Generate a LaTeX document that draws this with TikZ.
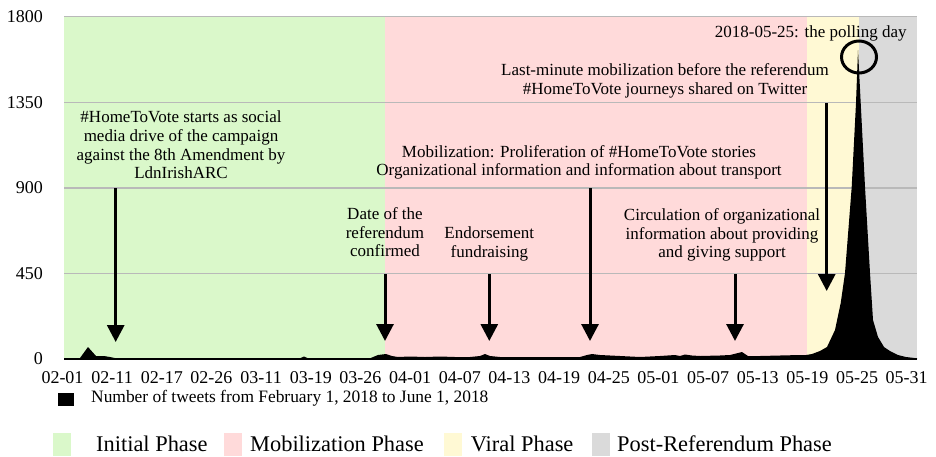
\documentclass[tikz,border=0pt]{standalone}
\usepackage{fontspec}
\setmainfont{Liberation Serif}
\usetikzlibrary{arrows.meta,shapes.geometric}
\definecolor{phgreen}{RGB}{218,248,202}
\definecolor{phpink}{RGB}{255,218,218}
\definecolor{phyellow}{RGB}{255,249,212}
\definecolor{phgray}{RGB}{218,218,218}
\definecolor{gridgray}{RGB}{185,185,185}
\tikzset{
  annot/.style={align=center,inner sep=0pt,font=\fontsize{17}{18.6}\selectfont},
  ticklab/.style={inner sep=0pt,font=\fontsize{18}{20}\selectfont},
  leglab/.style={inner sep=0pt,anchor=base west,font=\fontsize{22.4}{24}\selectfont},
  evtarrow/.style={line width=3pt,-{Triangle[width=17pt,length=17pt]}},
  grid line/.style={draw=gridgray,line width=1.3pt},
}
\begin{document}
\begin{tikzpicture}[x=1pt,y=-1pt]
\useasboundingbox (0,0) rectangle (936,456);
% phases
\fill[phgreen] (64,16.5) rectangle (385.3,359);
\fill[phpink] (385.3,16.5) rectangle (806.7,359);
\fill[phyellow] (806.7,16.5) rectangle (859,359);
\fill[phgray] (859,16.5) rectangle (917,359);
% grid
\foreach \y in {16.5,102.7,188,273.3} \draw[grid line] (64,\y) -- (917,\y);
% y labels
\foreach \y/\t in {16.5/1800,102.7/1350,188/900,273.3/450,359/0}
  \node[ticklab,anchor=east] at (43,\y) {\t};
% x labels
\foreach \t [count=\i from 0] in {02-01,02-11,02-17,02-26,03-11,03-19,03-26,04-01,04-07,04-13,04-19,04-25,05-01,05-07,05-13,05-19,05-25,05-31}
  \node[ticklab] at ({62.5+49.66*\i},377.5) {\t};
% data
\fill[black] (64,359) -- (80,358) -- (88,347) -- (96,356) -- (104,356) -- (110,357) -- (116,358.3)
 -- (300,358.3) -- (304,356.5) -- (308,358.3) -- (370,358.3) -- (378,355) -- (386,354) -- (392,356)
 -- (398,357) -- (410,356.5) -- (425,357) -- (440,356.5) -- (455,357) -- (470,357) -- (480,356)
 -- (485,354) -- (490,356) -- (500,357) -- (540,357) -- (580,357) -- (587,355) -- (592,354)
 -- (600,355) -- (620,356) -- (640,357) -- (660,356) -- (675,355) -- (680,356) -- (685,354.5)
 -- (692,355.5) -- (700,356) -- (720,355.5) -- (730,355) -- (742,352) -- (748,356) -- (760,356)
 -- (780,355.5) -- (800,355) -- (806,355) -- (812,354) -- (820,351) -- (827,347) -- (835,330)
 -- (840.7,303) -- (845,273) -- (851.7,187) -- (856,103) -- (858,50) -- (860.7,103) -- (865,187)
 -- (870,273) -- (873,320) -- (878,337) -- (884,347) -- (890,351) -- (898,355) -- (906,357)
 -- (917,358.3) -- (917,359) -- cycle;
\draw[black,line width=2pt] (64,359) -- (917,359);
% annotations
\node[annot] (n1) at (181,145) {\#HomeToVote starts as social\\media drive of the campaign\\against the 8th Amendment by\\LdnIrishARC};
\node[annot] (n2) at (579,162.5) {Mobilization: Proliferation of \#HomeToVote stories\\Organizational information and information about transport};
\node[annot] (n3) at (665,81) {Last-minute mobilization before the referendum\\\#HomeToVote journeys shared on Twitter};
\node[annot] (n4) at (810.7,33.3) {2018-05-25: the polling day};
\node[annot] (n5) at (385,232.3) {Date of the\\referendum\\confirmed};
\node[annot] (n6) at (489.3,244) {Endorsement\\fundraising};
\node[annot] (n7) at (722,235) {Circulation of organizational\\information about providing\\and giving support};
% arrows
\coordinate (a1s) at (115.7,188); \coordinate (a1e) at (115.7,342);
\coordinate (a2s) at (385,274); \coordinate (a2e) at (385,341);
\coordinate (a3s) at (489.3,274); \coordinate (a3e) at (489.3,341);
\coordinate (a4s) at (590,188); \coordinate (a4e) at (590,341);
\coordinate (a5s) at (735,274); \coordinate (a5e) at (735,341);
\coordinate (a6s) at (826.7,103); \coordinate (a6e) at (826.7,291);
\foreach \k in {1,...,6} \draw[evtarrow] (a\k s) -- (a\k e);
% polling day circle
\node[draw,line width=3pt,ellipse,minimum width=35pt,minimum height=32pt,inner sep=0pt] (poll) at (859,57) {};
% legend
\node[fill=black,minimum width=16pt,minimum height=12.5pt,inner sep=0pt] (lk) at (66,399.5) {};
\node[anchor=west,inner sep=0pt,font=\fontsize{17.4}{19}\selectfont] (lt) at (91,398.5) {Number of tweets from February 1, 2018 to June 1, 2018};
\fill[phgreen] (53.3,433.3) rectangle (71,456);
\node[leglab] (l1) at (96,451) {Initial Phase};
\fill[phpink] (224,433.3) rectangle (241.7,456);
\node[leglab] (l2) at (250,451) {Mobilization Phase};
\fill[phyellow] (444,433.3) rectangle (462.3,456);
\node[leglab] (l3) at (470.7,451) {Viral Phase};
\fill[phgray] (592.3,433.3) rectangle (610,456);
\node[leglab] (l4) at (617,451) {Post-Referendum Phase};
\end{tikzpicture}
\end{document}
